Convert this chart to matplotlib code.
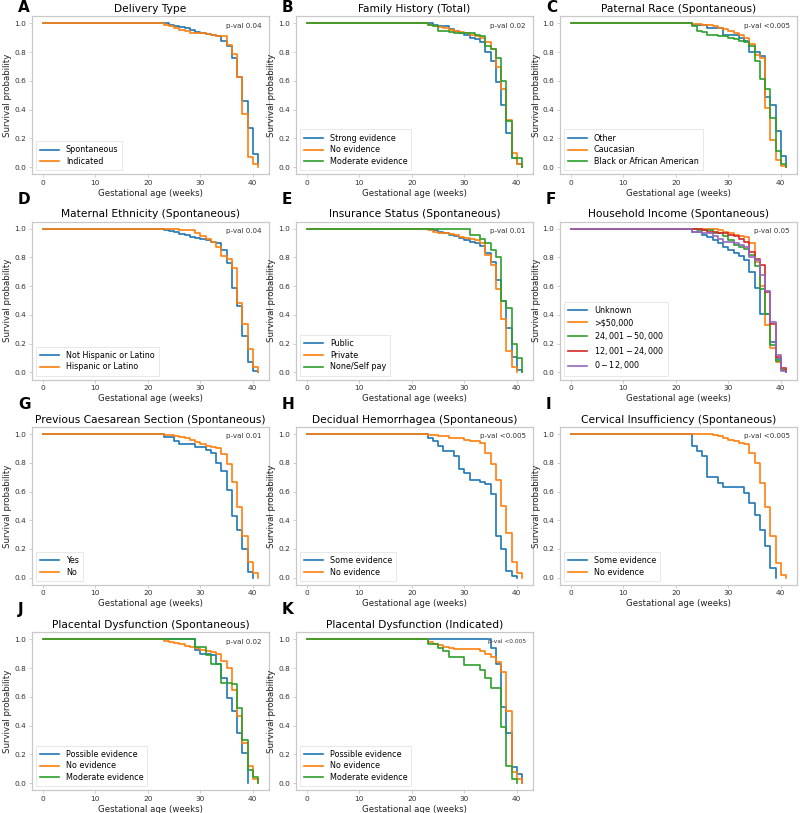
import matplotlib
matplotlib.use("Agg")
import matplotlib.pyplot as plt

# Kaplan-Meier step data: (weeks, survival)
titles = ["Delivery Type", "Family History (Total)", "Paternal Race (Spontaneous)",
          "Maternal Ethnicity (Spontaneous)", "Insurance Status (Spontaneous)",
          "Household Income (Spontaneous)", "Previous Caesarean Section (Spontaneous)",
          "Decidual Hemorrhagea (Spontaneous)", "Cervical Insufficiency (Spontaneous)",
          "Placental Dysfunction (Spontaneous)", "Placental Dysfunction (Indicated)"]
letters = ["A", "B", "C", "D", "E", "F", "G", "H", "I", "J", "K"]
pvals = ["p-val 0.04", "p-val 0.02", "p-val <0.005", "p-val 0.04", "p-val 0.01",
         "p-val 0.05", "p-val 0.01", "p-val <0.005", "p-val <0.005", "p-val 0.02",
         "p-val <0.005"]

# A
a_labels = ["Spontaneous", "Indicated"]
a_t = [[0, 23, 24, 25, 26, 27, 28, 29, 30, 31, 32, 33, 34, 35, 36, 37, 38, 39, 40, 41],
       [0, 23, 24, 25, 26, 27, 28, 30, 31, 32, 33, 34, 35, 36, 37, 38, 39, 40, 41]]
a_s = [[1, 1, 0.99, 0.985, 0.975, 0.965, 0.955, 0.94, 0.935, 0.925, 0.92, 0.91, 0.88, 0.84, 0.76, 0.63, 0.46, 0.27, 0.09, 0.02],
       [1, 0.99, 0.98, 0.965, 0.955, 0.945, 0.935, 0.93, 0.925, 0.92, 0.915, 0.91, 0.85, 0.79, 0.63, 0.37, 0.07, 0.02, 0.0]]

# B
b_labels = ["Strong evidence", "No evidence", "Moderate evidence"]
b_t = [[0, 24, 25, 27, 28, 29, 30, 31, 32, 33, 34, 35, 36, 37, 38, 39, 40, 41],
       [0, 23, 24, 25, 26, 27, 28, 29, 30, 31, 32, 33, 34, 35, 36, 37, 38, 39, 40, 41],
       [0, 23, 24, 25, 27, 28, 32, 33, 34, 35, 36, 37, 38, 39, 40, 41]]
b_s = [[1, 0.99, 0.98, 0.96, 0.95, 0.93, 0.92, 0.90, 0.89, 0.87, 0.80, 0.74, 0.59, 0.43, 0.24, 0.06, 0.02, 0.0],
       [1, 0.99, 0.985, 0.975, 0.965, 0.955, 0.945, 0.94, 0.93, 0.92, 0.91, 0.90, 0.87, 0.82, 0.70, 0.54, 0.33, 0.10, 0.02, 0.0],
       [1, 0.99, 0.98, 0.95, 0.94, 0.93, 0.92, 0.91, 0.84, 0.82, 0.76, 0.60, 0.32, 0.06, 0.06, 0.0]]

# C
c_labels = ["Other", "Caucasian", "Black or African American"]
c_t = [[0, 23, 26, 29, 32, 33, 34, 36, 37, 38, 39, 40, 41],
       [0, 23, 25, 27, 28, 29, 30, 31, 32, 33, 34, 35, 36, 37, 38, 39, 40, 41],
       [0, 23, 24, 25, 26, 28, 30, 31, 32, 33, 34, 35, 36, 37, 38, 39, 40, 41]]
c_s = [[1, 0.99, 0.97, 0.92, 0.90, 0.88, 0.80, 0.77, 0.49, 0.43, 0.25, 0.08, 0.0],
       [1, 0.995, 0.99, 0.98, 0.97, 0.96, 0.95, 0.93, 0.92, 0.90, 0.86, 0.78, 0.76, 0.41, 0.19, 0.05, 0.01, 0.0],
       [1, 0.98, 0.95, 0.94, 0.92, 0.91, 0.90, 0.89, 0.88, 0.87, 0.84, 0.74, 0.61, 0.54, 0.34, 0.11, 0.02, 0.0]]

# D
d_labels = ["Not Hispanic or Latino", "Hispanic or Latino"]
d_t = [[0, 23, 24, 25, 26, 27, 28, 29, 30, 31, 32, 33, 34, 35, 36, 37, 38, 39, 40, 41],
       [0, 26, 29, 30, 31, 32, 33, 34, 35, 36, 37, 38, 39, 40, 41]]
d_s = [[1, 0.99, 0.985, 0.975, 0.965, 0.955, 0.945, 0.935, 0.93, 0.92, 0.91, 0.90, 0.85, 0.76, 0.59, 0.46, 0.25, 0.07, 0.01, 0.0],
       [1, 0.99, 0.97, 0.95, 0.93, 0.91, 0.87, 0.81, 0.79, 0.73, 0.48, 0.34, 0.16, 0.04, 0.0]]

# E
e_labels = ["Public", "Private", "None/Self pay"]
e_t = [[0, 23, 24, 25, 26, 27, 28, 29, 30, 31, 32, 33, 34, 35, 36, 37, 38, 39, 40, 41],
       [0, 23, 24, 25, 27, 28, 29, 30, 31, 32, 33, 34, 35, 36, 37, 38, 39, 40],
       [0, 31, 33, 34, 35, 36, 37, 38, 39, 40, 41]]
e_s = [[1, 0.995, 0.99, 0.98, 0.97, 0.96, 0.95, 0.935, 0.92, 0.91, 0.90, 0.88, 0.83, 0.77, 0.64, 0.50, 0.31, 0.11, 0.02, 0.0],
       [1, 0.99, 0.98, 0.97, 0.965, 0.955, 0.94, 0.935, 0.93, 0.92, 0.90, 0.82, 0.75, 0.58, 0.37, 0.15, 0.04, 0.0],
       [1, 0.96, 0.93, 0.90, 0.85, 0.80, 0.50, 0.45, 0.20, 0.10, 0.0]]

# F
f_labels = ["Unknown", ">$50,000", r"$24,001-50,000$", r"$12,001-24,000$", r"$0-12,000$"]
f_t = [[0, 23, 25, 26, 27, 28, 29, 30, 31, 32, 33, 34, 35, 36, 38, 39, 40, 41],
       [0, 25, 28, 29, 30, 31, 32, 33, 34, 35, 36, 37, 38, 39, 40, 41],
       [0, 24, 27, 29, 30, 31, 32, 33, 34, 35, 36, 37, 38, 39, 40, 41],
       [0, 25, 26, 28, 30, 31, 32, 33, 34, 35, 36, 37, 38, 39, 40, 41],
       [0, 23, 25, 27, 28, 29, 31, 32, 33, 34, 35, 36, 37, 38, 39, 40, 41]]
f_s = [[1, 0.98, 0.96, 0.94, 0.92, 0.90, 0.87, 0.85, 0.83, 0.81, 0.78, 0.70, 0.59, 0.41, 0.21, 0.09, 0.02, 0.0],
       [1, 0.995, 0.99, 0.98, 0.97, 0.96, 0.95, 0.94, 0.90, 0.77, 0.60, 0.33, 0.17, 0.07, 0.02, 0.0],
       [1, 0.99, 0.97, 0.95, 0.92, 0.89, 0.87, 0.86, 0.82, 0.74, 0.58, 0.41, 0.19, 0.08, 0.02, 0.0],
       [1, 0.99, 0.98, 0.97, 0.96, 0.95, 0.93, 0.91, 0.84, 0.79, 0.75, 0.56, 0.34, 0.11, 0.03, 0.0],
       [1, 0.98, 0.97, 0.95, 0.93, 0.91, 0.90, 0.89, 0.87, 0.80, 0.78, 0.68, 0.57, 0.35, 0.12, 0.01, 0.0]]

# G
g_labels = ["Yes", "No"]
g_t = [[0, 23, 25, 26, 29, 31, 32, 33, 34, 35, 36, 37, 38, 39, 40],
       [0, 23, 25, 26, 27, 28, 29, 30, 31, 32, 33, 34, 35, 36, 37, 38, 39, 40, 41]]
g_s = [[1, 0.98, 0.95, 0.93, 0.91, 0.89, 0.87, 0.80, 0.74, 0.61, 0.43, 0.33, 0.20, 0.04, 0.0],
       [1, 0.995, 0.99, 0.98, 0.97, 0.96, 0.945, 0.93, 0.92, 0.91, 0.90, 0.86, 0.79, 0.67, 0.49, 0.29, 0.11, 0.03, 0.0]]

# H
h_labels = ["Some evidence", "No evidence"]
h_t = [[0, 23, 24, 25, 26, 28, 29, 30, 31, 33, 34, 35, 36, 37, 38, 39, 40],
       [0, 23, 25, 26, 27, 28, 30, 31, 32, 33, 34, 35, 36, 37, 38, 39, 40, 41]]
h_s = [[1, 0.97, 0.95, 0.92, 0.88, 0.85, 0.76, 0.73, 0.68, 0.67, 0.65, 0.58, 0.29, 0.20, 0.05, 0.01, 0.0],
       [1, 0.995, 0.99, 0.985, 0.975, 0.97, 0.96, 0.955, 0.95, 0.94, 0.87, 0.79, 0.68, 0.50, 0.31, 0.11, 0.03, 0.0]]

# I
i_labels = ["Some evidence", "No evidence"]
i_t = [[0, 23, 24, 25, 26, 28, 29, 33, 34, 35, 36, 37, 38, 39],
       [0, 27, 28, 29, 30, 31, 32, 33, 34, 35, 36, 37, 38, 39, 40, 41]]
i_s = [[1, 0.92, 0.88, 0.85, 0.70, 0.66, 0.63, 0.59, 0.52, 0.44, 0.33, 0.22, 0.07, 0.0],
       [1, 0.995, 0.985, 0.97, 0.96, 0.95, 0.94, 0.93, 0.87, 0.80, 0.66, 0.49, 0.29, 0.10, 0.02, 0.0]]

# J
j_labels = ["Possible evidence", "No evidence", "Moderate evidence"]
j_t = [[0, 29, 30, 32, 33, 34, 35, 36, 37, 38, 39],
       [0, 23, 24, 25, 26, 27, 28, 29, 30, 31, 32, 33, 34, 35, 36, 37, 38, 39, 40, 41],
       [0, 29, 31, 32, 34, 36, 37, 38, 39, 40, 41]]
j_s = [[1, 0.93, 0.90, 0.89, 0.83, 0.73, 0.59, 0.50, 0.35, 0.21, 0.0],
       [1, 0.99, 0.98, 0.975, 0.965, 0.955, 0.945, 0.94, 0.93, 0.92, 0.91, 0.90, 0.85, 0.80, 0.65, 0.47, 0.28, 0.12, 0.03, 0.0],
       [1, 0.95, 0.89, 0.83, 0.70, 0.69, 0.52, 0.30, 0.09, 0.04, 0.0]]

# K
k_labels = ["Possible evidence", "No evidence", "Moderate evidence"]
k_t = [[0, 35, 36, 37, 38, 39, 40, 41],
       [0, 23, 24, 25, 26, 27, 28, 33, 34, 35, 36, 37, 38, 39, 40, 41],
       [0, 23, 25, 26, 27, 30, 33, 34, 35, 37, 38, 39, 40]]
k_s = [[1, 0.94, 0.83, 0.53, 0.35, 0.11, 0.06, 0.0],
       [1, 0.98, 0.97, 0.96, 0.95, 0.94, 0.935, 0.92, 0.90, 0.88, 0.84, 0.77, 0.50, 0.08, 0.03, 0.0],
       [1, 0.97, 0.94, 0.92, 0.88, 0.82, 0.79, 0.73, 0.66, 0.39, 0.12, 0.03, 0.0]]

panels = [(a_labels, a_t, a_s), (b_labels, b_t, b_s), (c_labels, c_t, c_s),
          (d_labels, d_t, d_s), (e_labels, e_t, e_s), (f_labels, f_t, f_s),
          (g_labels, g_t, g_s), (h_labels, h_t, h_s), (i_labels, i_t, i_s),
          (j_labels, j_t, j_s), (k_labels, k_t, k_s)]

colors = ["#1f77b4", "#ff7f0e", "#2ca02c", "#d62728", "#9467bd"]
spine_col = "#c8c8c8"

fig, axes = plt.subplots(4, 3, figsize=(8, 8.13), dpi=100)
fig.subplots_adjust(left=0.040, right=0.996, top=0.980, bottom=0.028,
                    wspace=0.115, hspace=0.30)

for idx, ax in enumerate(axes.flat):
    if idx >= len(panels):
        ax.axis("off")
        continue
    labels, ts, ss = panels[idx]
    for k, (lab, t, s) in enumerate(zip(labels, ts, ss)):
        ax.step(t, s, where="post", color=colors[k], lw=1.2, label=lab)
    ax.set_xticks([0, 10, 20, 30, 40])
    ax.set_yticks([0, 0.2, 0.4, 0.6, 0.8, 1.0])
    ax.tick_params(labelsize=5.3, length=2, width=0.6, color=spine_col, pad=2,
                   labelcolor="#333333")
    for sp in ax.spines.values():
        sp.set_color(spine_col)
        sp.set_linewidth(0.9)
    ax.set_xlabel("Gestational age (weeks)", fontsize=6.2, labelpad=2, color="#222222")
    ax.set_ylabel("Survival probability", fontsize=6.2, labelpad=1.5, color="#222222")
    ax.set_title(titles[idx], fontsize=7.7, pad=3)
    ax.text(0.97, 0.94, pvals[idx], transform=ax.transAxes, ha="right", va="center",
            fontsize=4.2 if idx == 10 else 5.1, color="#333333")
    leg = ax.legend(loc="lower left", fontsize=5.8, handlelength=2.4,
                    borderpad=0.5, labelspacing=0.35, fancybox=False)
    leg.get_frame().set_edgecolor("#dddddd")
    leg.get_frame().set_linewidth(0.6)

    # panel letter above the top-left corner
    pos = ax.get_position()
    dy = 1 if idx < 3 else 15
    fig.text(pos.x0 - 14 / 800, pos.y1 + dy / 813, letters[idx], fontsize=11,
             fontweight="bold", ha="left", va="bottom")

fig.savefig("out.png", dpi=100)
